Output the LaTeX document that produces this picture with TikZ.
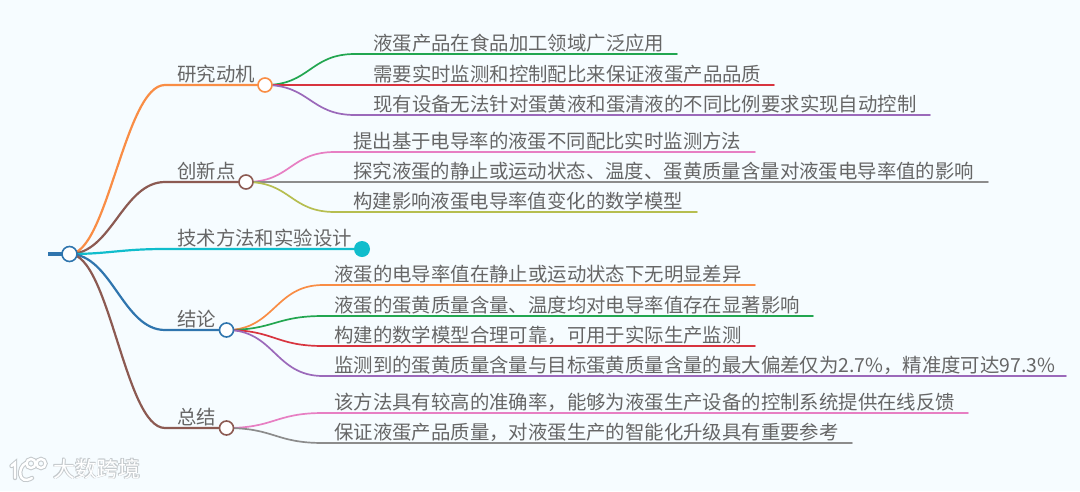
\documentclass[tikz,border=0pt]{standalone}
\usepackage{fontspec}
\setmainfont{Noto Sans CJK SC}
\usetikzlibrary{backgrounds}
\definecolor{bgc}{HTML}{F6FCFF}
\definecolor{txt}{HTML}{666666}
\definecolor{cOrange}{HTML}{F98D45}
\definecolor{cBrown}{HTML}{8C5A52}
\definecolor{cTeal}{HTML}{10BDCC}
\definecolor{cBlue}{HTML}{2F75AE}
\definecolor{cGreen}{HTML}{22A650}
\definecolor{cRed}{HTML}{D8343F}
\definecolor{cPurple}{HTML}{9B69BA}
\definecolor{cPink}{HTML}{E77FC3}
\definecolor{cGray}{HTML}{8C8C8C}
\definecolor{cOlive}{HTML}{B6BE50}
\definecolor{wm}{HTML}{C4C9CC}
\tikzset{
  label text/.style={anchor=base west,inner sep=0pt,text=txt,font=\fontsize{19.4}{22}\selectfont},
  hub/.style={circle,draw=#1,fill=white,line width=1.6pt,minimum size=14pt,inner sep=0pt},
  endcap/.style={circle,fill=#1,minimum size=16pt,inner sep=0pt},
  trunk/.style={draw=#1,line width=2.2pt,line cap=round},
  twig/.style={draw=#1,line width=1.7pt,line cap=round},
  wmmark/.style={anchor=base west,inner sep=0pt,font=\fontsize{21.8}{24}\selectfont}
}
\begin{document}
\begin{tikzpicture}[x=1pt,y=-1pt]
\useasboundingbox (0,0) rectangle (1080,491);
% root and branch hubs
\node[hub=cBlue,minimum size=15pt] (root) at (69.5,254) {};
\coordinate (stub) at (48,254);
\node[hub=cOrange] (h1) at (265,85) {};
\node[hub=cBrown] (h2) at (246,182) {};
\node[endcap=cTeal] (h3) at (362,249) {};
\node[hub=cBlue] (h4) at (226.5,330) {};
\node[hub=cBrown] (h5) at (226.5,428) {};
% branch labels
\node[label text] (t1) at (177,81) {研究动机};
\node[label text] (t2) at (177,178) {创新点};
\node[label text] (t3) at (177,245) {技术方法和实验设计};
\node[label text] (t4) at (177,326) {结论};
\node[label text] (t5) at (177,424) {总结};
% leaves
\node[label text] (a1) at (373,50) {液蛋产品在食品加工领域广泛应用};
\node[label text] (a2) at (373,81) {需要实时监测和控制配比来保证液蛋产品品质};
\node[label text] (a3) at (373,111) {现有设备无法针对蛋黄液和蛋清液的不同比例要求实现自动控制};
\node[label text] (b1) at (353,148) {提出基于电导率的液蛋不同配比实时监测方法};
\node[label text] (b2) at (353,178) {探究液蛋的静止或运动状态、温度、蛋黄质量含量对液蛋电导率值的影响};
\node[label text] (b3) at (353,208) {构建影响液蛋电导率值变化的数学模型};
\node[label text] (d1) at (334,281) {液蛋的电导率值在静止或运动状态下无明显差异};
\node[label text] (d2) at (334,312) {液蛋的蛋黄质量含量、温度均对电导率值存在显著影响};
\node[label text] (d3) at (334,342) {构建的数学模型合理可靠，可用于实际生产监测};
\node[label text] (d4) at (334,372) {监测到的蛋黄质量含量与目标蛋黄质量含量的最大偏差仅为2.7\%，精准度可达97.3\%};
\node[label text] (e1) at (334,409) {该方法具有较高的准确率，能够为液蛋生产设备的控制系统提供在线反馈};
\node[label text] (e2) at (334,439) {保证液蛋产品质量，对液蛋生产的智能化升级具有重要参考};
% free ends of the underlines
\coordinate (a1s) at (355,54);  \coordinate (a1e) at (677,54);
\coordinate (a2s) at (355,85);  \coordinate (a2e) at (774,85);
\coordinate (a3s) at (355,115); \coordinate (a3e) at (930,115);
\coordinate (b1s) at (335,152); \coordinate (b1e) at (755,152);
\coordinate (b2s) at (335,182); \coordinate (b2e) at (988,182);
\coordinate (b3s) at (335,212); \coordinate (b3e) at (697,212);
\coordinate (d1s) at (323,285); \coordinate (d1e) at (755,285);
\coordinate (d2s) at (323,316); \coordinate (d2e) at (813,316);
\coordinate (d3s) at (323,346); \coordinate (d3e) at (755,346);
\coordinate (d4s) at (323,376); \coordinate (d4e) at (1066,376);
\coordinate (e1s) at (323,413); \coordinate (e1e) at (968,413);
\coordinate (e2s) at (323,443); \coordinate (e2e) at (852,443);
\coordinate (m1) at (165,85);
\coordinate (m2) at (165,182);
\coordinate (m3) at (165,249);
\coordinate (m4) at (165,330);
\coordinate (m5) at (165,428);
\begin{scope}[on background layer]
\fill[bgc] (0,0) rectangle (1080,491);
\draw[draw=cBlue,line width=4pt] (stub) -- (root.center);
\draw[trunk=cOrange] (root.center) .. controls +(38,0) and +(-40,0) .. (m1) -- (h1.center);
\draw[trunk=cBrown] (root.center) .. controls +(42,0) and +(-42,0) .. (m2) -- (h2.center);
\draw[trunk=cTeal] (root.center) .. controls +(40,0) and +(-45,0) .. (m3) -- (h3.center);
\draw[trunk=cBlue] (root.center) .. controls +(42,0) and +(-42,0) .. (m4) -- (h4.center);
\draw[trunk=cBrown] (root.center) .. controls +(40,0) and +(-40,0) .. (m5) -- (h5.center);
\draw[twig=cGreen] (h1.center) .. controls +(45,0) and +(-45,0) .. (a1s) -- (a1e);
\draw[twig=cRed] (h1.center) -- (a2s) -- (a2e);
\draw[twig=cPurple] (h1.center) .. controls +(45,0) and +(-45,0) .. (a3s) -- (a3e);
\draw[twig=cPink] (h2.center) .. controls +(45,0) and +(-45,0) .. (b1s) -- (b1e);
\draw[twig=cGray] (h2.center) -- (b2s) -- (b2e);
\draw[twig=cOlive] (h2.center) .. controls +(45,0) and +(-45,0) .. (b3s) -- (b3e);
\draw[twig=cOrange] (h4.center) .. controls +(48,0) and +(-48,0) .. (d1s) -- (d1e);
\draw[twig=cGreen] (h4.center) .. controls +(48,0) and +(-48,0) .. (d2s) -- (d2e);
\draw[twig=cRed] (h4.center) .. controls +(48,0) and +(-48,0) .. (d3s) -- (d3e);
\draw[twig=cPurple] (h4.center) .. controls +(48,0) and +(-48,0) .. (d4s) -- (d4e);
\draw[twig=cPink] (h5.center) .. controls +(48,0) and +(-48,0) .. (e1s) -- (e1e);
\draw[twig=cGray] (h5.center) .. controls +(48,0) and +(-48,0) .. (e2s) -- (e2e);
\end{scope}
% watermark: white shapes over a soft grey halo
\foreach \col/\lw in {wm/4.4,white/2.4}{
  \begin{scope}[draw=\col,line width=\lw pt,line cap=round]
    \draw (11.5,466) -- (15,463) -- (15,478);
    \draw (26,463) .. controls (17,467) and (18,486) .. (32,478);
    \draw (31,463.5) circle (4.5);
    \draw (41,463.5) circle (4.5);
  \end{scope}
}
\foreach \i/\dx/\dy in {1/-0.7/-0.7,2/0.7/-0.7,3/-0.7/0.7,4/0.9/0.9}{
  \node[wmmark,text=wm] (wmshadow\i) at (53+\dx,477+\dy) {大数跨境};
}
\node[wmmark,text=white] (wmark) at (53,477) {大数跨境};
\end{tikzpicture}
\end{document}
